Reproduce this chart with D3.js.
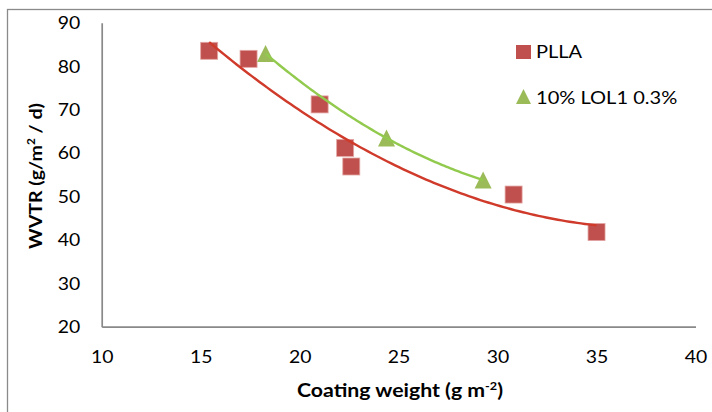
<!DOCTYPE html>
<html>
<head>
<meta charset="utf-8">
<script src="https://cdn.jsdelivr.net/npm/d3@7"></script>
<style>
  html, body { margin: 0; padding: 0; background: #fff; }
  svg { display: block; font-family: Lato, "Open Sans", sans-serif; }
</style>
</head>
<body>
<svg id="chart" width="712" height="412"></svg>
<script>
// Coating weight (g m-2) and WVTR (g/m2/d) for each film
const pllaWeight = [15.43, 17.42, 21.01, 22.30, 22.61, 30.81, 35.00];
const pllaWvtr   = [83.55, 81.70, 71.20, 61.19, 56.90, 50.44, 41.80];
const lolWeight  = [18.28, 24.39, 29.27];
const lolWvtr    = [82.90, 63.45, 53.80];

const seriesNames = ["PLLA", "10% LOL1 0.3%"];
const xTickValues = [10, 15, 20, 25, 30, 35, 40];
const yTickValues = [20, 30, 40, 50, 60, 70, 80, 90];

const svg = d3.select("#chart");
const W = 712, H = 412;

const x = d3.scaleLinear().domain([10, 40]).range([101.7, 695.5]);
const y = d3.scaleLinear().domain([20, 90]).range([326.7, 22.8]);

const colors = {
  squareFill: "#C0504D",
  squareEdge: "#E2A5A3",
  triFill: "#9BBB59",
  redLine: "#CF3A2A",
  greenLine: "#92CA4E",
  axis: "#898989",
  text: "#000"
};

// labels are set in a slightly widened face
const TICK_FS = 16.3, TICK_SX = 1.19;

// outer frame of the chart area
svg.append("rect")
  .attr("x", 7.5).attr("y", 9.5)
  .attr("width", W + 20).attr("height", H + 20)
  .attr("fill", "none").attr("stroke", "#8a8a8a").attr("stroke-width", 1.3);

// axes (lines only, no tick marks)
const gx = svg.append("g").attr("transform", `translate(0,${y(20)})`)
  .call(d3.axisBottom(x).tickValues(xTickValues).tickSize(0).tickPadding(0));
gx.select(".domain").attr("stroke", colors.axis).attr("stroke-width", 1.7);
gx.selectAll(".tick text")
  .attr("x", 0).attr("y", 0).attr("dy", null)
  .attr("transform", `translate(0,36) scale(${TICK_SX},1)`)
  .attr("font-size", TICK_FS).attr("font-family", "Lato").attr("fill", colors.text);

const gy = svg.append("g").attr("transform", `translate(${x(10)},0)`)
  .call(d3.axisLeft(y).tickValues(yTickValues).tickSize(0).tickPadding(0));
gy.select(".domain").attr("stroke", colors.axis).attr("stroke-width", 1.7);
gy.selectAll(".tick text")
  .attr("x", 0).attr("dy", "0.36em")
  .attr("transform", `translate(-21.5,0) scale(${TICK_SX},1)`)
  .attr("font-size", TICK_FS).attr("font-family", "Lato").attr("fill", colors.text);

// axis titles
const xt = svg.append("text")
  .attr("transform", "translate(400,396.5) scale(1.15,1)")
  .attr("text-anchor", "middle")
  .attr("font-weight", "bold").attr("font-size", 18.5);
xt.append("tspan").text("Coating weight (g m");
xt.append("tspan").attr("font-size", 11).attr("dy", -7).text("-2");
xt.append("tspan").attr("dy", 7).text(")");

const yt = svg.append("text")
  .attr("transform", "translate(41.5,176) rotate(-90) scale(1.12,1)")
  .attr("text-anchor", "middle")
  .attr("font-weight", "bold").attr("font-size", 17.5);
yt.append("tspan").text("WVTR (g/m");
yt.append("tspan").attr("font-size", 10.5).attr("dy", -7).text("2");
yt.append("tspan").attr("dy", 7).text(" / d)");

// quadratic least-squares trend
function quadFit(xs, ys) {
  const n = xs.length;
  let s = [0, 0, 0, 0, 0], t = [0, 0, 0];
  for (let i = 0; i < n; i++) {
    let p = 1;
    for (let k = 0; k < 5; k++) { s[k] += p; if (k < 3) t[k] += p * ys[i]; p *= xs[i]; }
  }
  const A = [[s[0], s[1], s[2], t[0]], [s[1], s[2], s[3], t[1]], [s[2], s[3], s[4], t[2]]];
  for (let c = 0; c < 3; c++) {
    let piv = c;
    for (let r = c + 1; r < 3; r++) if (Math.abs(A[r][c]) > Math.abs(A[piv][c])) piv = r;
    [A[c], A[piv]] = [A[piv], A[c]];
    for (let r = 0; r < 3; r++) {
      if (r === c) continue;
      const f = A[r][c] / A[c][c];
      for (let k = c; k < 4; k++) A[r][k] -= f * A[c][k];
    }
  }
  const coef = [A[0][3] / A[0][0], A[1][3] / A[1][1], A[2][3] / A[2][2]];
  return v => coef[0] + coef[1] * v + coef[2] * v * v;
}

function trendPoints(xs, ys) {
  const f = quadFit(xs, ys);
  const [lo, hi] = d3.extent(xs);
  return d3.range(0, 101).map(i => { const v = lo + (hi - lo) * i / 100; return [v, f(v)]; });
}

const line = d3.line().x(d => x(d[0])).y(d => y(d[1])).curve(d3.curveLinear);

// markers
const sq = 17;
svg.append("g").selectAll("rect")
  .data(d3.zip(pllaWeight, pllaWvtr))
  .join("rect")
  .attr("x", d => x(d[0]) - sq / 2).attr("y", d => y(d[1]) - sq / 2)
  .attr("width", sq).attr("height", sq)
  .attr("fill", colors.squareFill)
  .attr("stroke", colors.squareEdge).attr("stroke-width", 0.8);

function triPath(w, cx, cy) {
  const h = w;
  return `M${cx},${cy - h / 2}L${cx + w / 2},${cy + h / 2}L${cx - w / 2},${cy + h / 2}Z`;
}
svg.append("g").selectAll("path")
  .data(d3.zip(lolWeight, lolWvtr))
  .join("path")
  .attr("d", d => triPath(17, x(d[0]), y(d[1])))
  .attr("fill", colors.triFill);

// trend lines
svg.append("path")
  .attr("d", line(trendPoints(pllaWeight, pllaWvtr)))
  .attr("fill", "none").attr("stroke", colors.redLine).attr("stroke-width", 2.4);
svg.append("path")
  .attr("d", line(trendPoints(lolWeight, lolWvtr)))
  .attr("fill", "none").attr("stroke", colors.greenLine).attr("stroke-width", 2.4);

// legend
const lg = svg.append("g");
lg.append("rect").attr("x", 516).attr("y", 45).attr("width", 15).attr("height", 14)
  .attr("fill", colors.squareFill);
lg.append("text").attr("transform", "translate(536,58.3) scale(1.18,1)")
  .attr("font-size", 17).text(seriesNames[0]);
lg.append("path").attr("d", triPath(15, 523.5, 96.5)).attr("fill", colors.triFill);
lg.append("text").attr("transform", "translate(536,104) scale(1.18,1)")
  .attr("font-size", 17).text(seriesNames[1]);
</script>
</body>
</html>
